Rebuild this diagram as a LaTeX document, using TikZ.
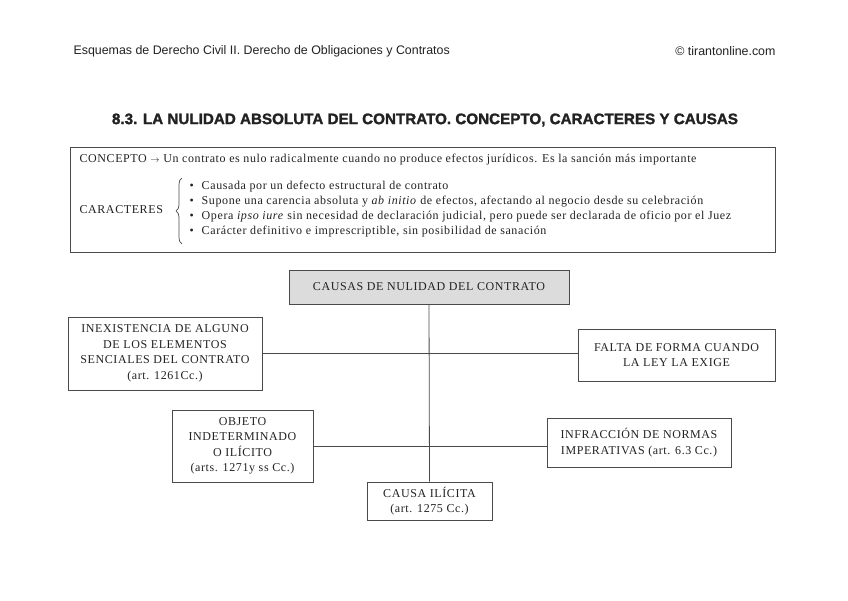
\documentclass[tikz,border=0pt]{standalone}
\usepackage{fontspec}
\setmainfont[LetterSpace=5]{Liberation Serif}
\newfontfamily\headfont{Liberation Sans}
\newfontfamily\titlefont[BoldFeatures={FakeBold=1.6}]{Liberation Sans}
\usetikzlibrary{positioning,decorations.pathreplacing}
\definecolor{NulidadLine}{HTML}{4A4A4A}
\definecolor{NulidadGray}{HTML}{DCDCDC}
\definecolor{NulidadText}{HTML}{222222}
\newcommand{\bul}{\textbullet\hspace{8pt}}

\begin{document}
\begin{tikzpicture}[x=1pt,y=-1pt, every node/.style={font=\fontsize{12}{15.5}\selectfont,text=NulidadText}]
      \tikzset{
        causa/.style={draw=NulidadLine,line width=0.8pt,align=center,inner sep=2pt},
        enlace/.style={draw=NulidadLine,line width=0.8pt}
      }
      \useasboundingbox[fill=white] (0,0) rectangle (848,601);

      \node[anchor=west,font=\headfont\fontsize{12.4}{14}\selectfont] (cabecera) at (70,51) {Esquemas de Derecho Civil II. Derecho de Obligaciones y Contratos};
      \node[anchor=east,font=\headfont\fontsize{12.4}{14}\selectfont] (web) at (779,51) {\textcopyright{} tirantonline.com};
      \node[font=\titlefont\bfseries\fontsize{15.2}{17}\selectfont] (titulo) at (425,120) {8.3. LA NULIDAD ABSOLUTA DEL CONTRATO. CONCEPTO, CARACTERES Y CAUSAS};

      \node[causa,minimum width=705,minimum height=105] (marco) at (422.5,199.5) {};
      \node[anchor=west] (concepto) at (76,160) {CONCEPTO {\small$\rightarrow$} Un contrato es nulo radicalmente cuando no produce efectos jurídicos. Es la sanción más importante};
      \node[anchor=west] (caracteres) at (76,210) {CARACTERES};
      \draw[NulidadLine,line width=0.7pt,decorate,decoration={brace,amplitude=6pt}] (182,244) -- (182,178);
      \node[anchor=west,align=left,font=\fontsize{12}{15}\selectfont] (rasgos) at (186,209.5) {\bul Causada por un defecto estructural de contrato\\
        \bul Supone una carencia absoluta y \textit{ab initio} de efectos, afectando al negocio desde su celebración\\
        \bul Opera \textit{ipso iure} sin necesidad de declaración judicial, pero puede ser declarada de oficio por el Juez\\
        \bul Carácter definitivo e imprescriptible, sin posibilidad de sanación};

      \node[causa,fill=NulidadGray,minimum width=280,minimum height=34] (causas) at (429,287) {CAUSAS DE NULIDAD DEL CONTRATO};
      \node[causa,minimum width=194,minimum height=73] (inexistencia) at (165,353.5) {INEXISTENCIA DE ALGUNO\\DE LOS ELEMENTOS\\SENCIALES DEL CONTRATO\\(art. 1261Cc.)};
      \node[causa,minimum width=197,minimum height=52] (forma) at (676.5,355) {FALTA DE FORMA CUANDO\\LA LEY LA EXIGE};
      \node[causa,minimum width=141,minimum height=72] (objeto) at (242.5,446) {OBJETO\\INDETERMINADO\\O ILÍCITO\\(arts. 1271y ss Cc.)};
      \node[causa,minimum width=184,minimum height=49] (normas) at (639,442.5) {INFRACCIÓN DE NORMAS\\IMPERATIVAS (art. 6.3 Cc.)};
      \node[causa,minimum width=125,minimum height=38] (ilicita) at (429.5,501) {CAUSA ILÍCITA\\(art. 1275 Cc.)};

      \draw[enlace] (causas.south) -- (ilicita.north);
      \draw[enlace] (inexistencia.east) -- (inexistencia.east -| forma.west);
      \draw[enlace] (objeto.east) -- (objeto.east -| normas.west);
    \end{tikzpicture}
\end{document}
